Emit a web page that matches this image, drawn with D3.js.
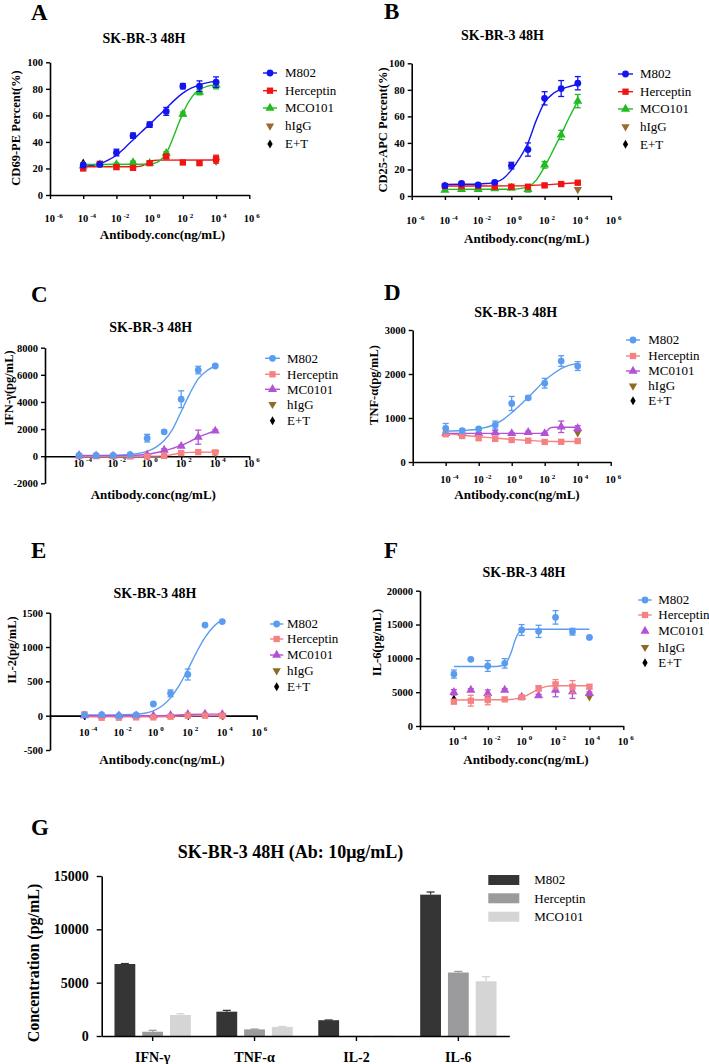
<!DOCTYPE html>
<html><head><meta charset="utf-8">
<script src="https://cdn.jsdelivr.net/npm/d3@7"></script>
<style>
body{margin:0;background:#fff}
svg{display:block}
svg text{font-family:"Liberation Serif","Times New Roman",Times,serif !important;fill:#000}
</style>
</head><body>
<svg id="c" width="709" height="1064" font-family="Liberation Serif, Times New Roman, serif"></svg>
<script>
// ================= DATA =================
const concs = [1e-4, 1e-3, 1e-2, 1e-1, 1, 10, 100, 1000, 10000];
const xTickExps = [-6, -4, -2, 0, 2, 4, 6];
const seriesAB = ["M802", "Herceptin", "MCO101", "hIgG", "E+T"];
const seriesCF = ["M802", "Herceptin", "MC0101", "hIgG", "E+T"];
const ctrlConcIgG = 1e4, ctrlConcET = 1e-4;

// Panel A: CD69-PE Percent(%)
const aM802 = [22.5, 23, 32, 44.7, 53, 63, 82, 82, 85];
const aM802Err = [1.5, 1, 2.5, 2, 2, 3, 2, 4, 4];
const aHer = [20, 23.5, 21, 20.5, 24, 29, 24.5, 24, 27];
const aHerErr = [1, 1, 1.5, 1.5, 1, 1.5, 1, 1, 3];
const aMCO = [22, 23, 23, 24.5, 24, 31.5, 61, 77.5, 83];
const aMCOErr = [1, 1, 1, 1, 1, 1, 1.5, 2, 3];
const aIgG = 25.5, aET = 24;
const fitA_M802 = [[-4,21.4],[-3.5,22.2],[-3,23.6],[-2.5,26.3],[-2,30],[-1.5,35.5],[-1,41.5],[-0.5,47.5],[0,53.3],[0.5,59.3],[1,65.3],[1.5,71.5],[2,76.8],[2.5,80.5],[3,83],[3.5,84.7],[4,85.8]];
const fitA_Her = [[-4,21.3],[-1,21.3],[-0.5,21.8],[-0.25,23.2],[0,25],[0.25,26],[0.5,26.3],[4,26.4]];
const fitA_MCO = [[-4,23],[0,23.2],[0.25,23.8],[0.5,25],[0.75,27.5],[1,31.5],[1.25,38],[1.5,46],[1.75,54],[2,61.5],[2.25,68],[2.5,73],[2.75,77],[3,79.3],[3.5,82],[4,83]];

// Panel B: CD25-APC Percent(%)
const bM802 = [7.8, 9.5, 8.3, 10.3, 22.9, 35, 73.6, 81, 85];
const bM802Err = [1, 1, 1, 1, 2.5, 5, 5, 6, 5];
const bHer = [7.5, 7.5, 7.5, 7, 7, 7, 8, 9, 10];
const bHerErr = [1, 1, 1, 1, 1, 1, 1, 1, 1];
const bMCO = [4.5, 5, 5, 5.5, 6, 5, 23.5, 46, 71.5];
const bMCOErr = [1, 1, 1, 1, 1, 2, 2.5, 3.5, 5];
const bIgG = 5, bET = 7.5;
const fitB_M802 = [[-4,8.7],[-3,8.8],[-2,9],[-1.5,9.4],[-1,10.2],[-0.5,13],[0,19.5],[0.5,28.5],[1,40],[1.5,57],[2,70.5],[2.5,77],[3,80.5],[3.5,82.5],[4,84]];
const fitB_Her = [[-4,7.5],[0,7.6],[1,7.9],[2,8.4],[3,9.2],[4,10]];
const fitB_MCO = [[-4,5],[0,5.1],[0.5,5.6],[1,7],[1.5,12],[2,22],[2.5,34],[3,46.5],[3.5,59.5],[4,71.5]];

// Panel C: IFN-γ(pg/mL)
const cM802 = [60, 50, 60, 120, 1330, 1800, 4200, 6350, 6650];
const cM802Err = [50, 50, 50, 50, 280, 100, 620, 280, 60];
const cHer = [0, 0, 0, -20, -30, 20, 230, 300, 280];
const cHerErr = [20, 20, 20, 20, 20, 20, 50, 30, 30];
const cMC = [40, 30, 20, 30, 100, 450, 740, 1400, 1860];
const cMCErr = [20, 20, 20, 20, 30, 100, 80, 520, 100];
const cIgG = 250, cET = 50;
const fitC_M802 = [[-4,60],[-3,62],[-2,75],[-1,130],[-0.5,210],[0,360],[0.5,650],[1,1150],[1.5,2000],[2,3300],[2.5,4600],[3,5700],[3.5,6300],[4,6650]];
const fitC_Her = [[-4,0],[0,0],[0.5,5],[1,20],[1.5,120],[2,230],[2.5,280],[3,295],[4,300]];
const fitC_MC = [[-4,40],[-2,40],[-1,60],[0,140],[0.5,250],[1,400],[1.5,580],[2,790],[2.5,1080],[3,1400],[3.5,1650],[4,1860]];

// Panel D: TNF-α(pg/mL)
const dM802 = [765, 712, 750, 840, 1330, 1460, 1790, 2295, 2180];
const dM802Err = [110, 30, 30, 90, 160, 40, 110, 120, 100];
const dHer = [630, 590, 540, 525, 500, 485, 455, 460, 477];
const dHerErr = [20, 20, 40, 30, 20, 20, 20, 20, 20];
const dMC = [650, 650, 650, 670, 650, 674, 650, 800, 765];
const dMCErr = [20, 20, 20, 50, 20, 30, 20, 130, 60];
const dIgG = 667, dET = 700;
const fitD_M802 = [[-4,700],[-3,715],[-2,750],[-1,860],[-0.5,970],[0,1120],[0.5,1290],[1,1470],[1.5,1660],[2,1850],[2.5,2000],[3,2120],[3.5,2200],[4,2240]];
const fitD_Her = [[-4,645],[-3,610],[-2,575],[-1,545],[0,515],[1,490],[2,470],[3,465],[4,465]];
const fitD_MC = [[-4,650],[2,650],[2.1,690],[2.25,750],[2.4,785],[2.6,790],[4,790]];

// Panel E: IL-2(pg/mL)
const eM802 = [10, 15, 0, 10, 170, 325, 600, 1320, 1370];
const eM802Err = [5, 5, 5, 5, 10, 50, 80, 10, 10];
const eHer = [20, -30, -30, -25, -25, -15, 0, 0, 0];
const eHerErr = [5, 5, 5, 5, 5, 5, 5, 5, 5];
const eMC = [0, 0, 0, 0, 0, 5, 20, 25, 20];
const eMCErr = [5, 5, 5, 5, 5, 5, 5, 5, 5];
const eIgG = 0, eET = 0;
const fitE_M802 = [[-4,10],[-3,10],[-2,12],[-1,20],[-0.5,35],[0,70],[0.5,140],[1,260],[1.5,440],[2,670],[2.5,920],[3,1140],[3.5,1300],[4,1400]];
const fitE_Her = [[-4,-15],[0,-15],[1,-12],[2,-2],[3,0],[4,0]];
const fitE_MC = [[-4,0],[0,0],[1,5],[2,18],[3,22],[4,22]];

// Panel F: IL-6(pg/mL)
const fM802 = [7680, 9850, 8870, 9260, 14190, 13990, 16060, 13940, 13100];
const fM802Err = [600, 100, 800, 700, 800, 900, 1000, 500, 100];
const fHer = [3600, 3740, 3840, 3940, 4240, 5570, 6160, 5810, 5810];
const fHerErr = [300, 800, 700, 200, 200, 400, 700, 900, 300];
const fMC = [4980, 5320, 4830, 5320, 4300, 4480, 5320, 5070, 4830];
const fMCErr = [400, 200, 500, 200, 100, 200, 1000, 1000, 200];
const fIgG = 4330, fET = 4000;
const fitF_M802 = [[-4,8800],[-1.5,8800],[-1.2,8900],[-1,9100],[-0.8,9800],[-0.6,11000],[-0.4,12600],[-0.2,13700],[0,14150],[0.3,14300],[4,14300]];
const fitF_Her = [[-4,3850],[-1,3880],[-0.5,3960],[0,4200],[0.5,4800],[1,5450],[1.5,5850],[2,5950],[4,5950]];

// Panel G: bar chart at 10 µg/mL
const gCats = ["IFN-γ", "TNF-α", "IL-2", "IL-6"];
const gSeries = ["M802", "Herceptin", "MCO101"];
const gM802 = [6750, 2280, 1480, 13250];
const gM802Err = [40, 120, 20, 250];
const gHer = [400, 620, 10, 5950];
const gHerErr = [130, 30, 0, 100];
const gMCO = [1970, 850, 40, 5130];
const gMCOErr = [120, 40, 0, 430];
const gYTicks = [0, 5000, 10000, 15000];

// ================= DRAWING =================
const SERIF = '"Liberation Serif","Times New Roman",Times,serif';
const svg = d3.select("#c");
const colAB = { M802: "#1414f0", Her: "#f01414", MCO: "#22bb22", IgG: "#9a6b2e", ET: "#000" };
const colCF = { M802: "#5a9cf0", Her: "#f48282", MCO: "#b452d6", IgG: "#8f6a22", ET: "#000" };

const sym = {
  circle: d3.symbol().type(d3.symbolCircle).size(36),
  square: d3.symbol().type(d3.symbolSquare).size(40),
  triangle: d3.symbol().type(d3.symbolTriangle).size(36),
  tdown: d3.symbol().type(d3.symbolTriangle).size(30),
  diamond: d3.symbol().type(d3.symbolDiamond).size(24)
};

function txt(sel, size, bold) {
  return sel.style("font-family", SERIF).style("font-size", size + "px")
    .style("font-weight", bold ? "bold" : "normal").attr("fill", "#000");
}

function drawDose(p) {
  const g = svg.append("g");
  const x = d3.scaleLog().domain([1e-6, 1e6]).range([p.x0, p.x1]);
  const y = d3.scaleLinear().domain(p.yDomain).range([p.yBot, p.yTop]);

  txt(g.append("text").attr("x", p.letter[0]).attr("y", p.letter[1]), 23, true).text(p.name);
  txt(g.append("text").attr("x", p.title[0]).attr("y", p.title[1]).attr("text-anchor", "middle"), 14, true)
    .text("SK-BR-3 48H");

  // y axis
  const ya = d3.axisLeft(y).tickValues(p.yTicks).tickSize(4).tickSizeOuter(0).tickPadding(3)
    .tickFormat(d => String(d));
  const yg = g.append("g").attr("transform", `translate(${p.x0},0)`).call(ya);
  yg.select(".domain").attr("stroke", "#000").attr("stroke-width", 1.6);
  yg.selectAll(".tick line").attr("stroke", "#000").attr("stroke-width", 1.4);
  txt(yg.selectAll(".tick text"), p.yFont, true);

  // x axis at y = 0
  const xa = d3.axisBottom(x).tickValues(xTickExps.map(e => Math.pow(10, e)))
    .tickSize(4).tickSizeOuter(0).tickFormat("");
  const xg = g.append("g").attr("transform", `translate(0,${y(0)})`).call(xa);
  xg.select(".domain").attr("stroke", "#000").attr("stroke-width", 1.6);
  xg.selectAll(".tick line").attr("stroke", "#000").attr("stroke-width", 1.4);

  const labExps = p.showFirst ? xTickExps : xTickExps.slice(1);
  const lab = txt(g.selectAll(".xl").data(labExps).join("text")
    .attr("x", e => x(Math.pow(10, e)) - 5.5).attr("y", p.xLabY), 10.5, true);
  lab.append("tspan").text("10");
  lab.append("tspan").attr("dx", 2).attr("dy", -4.5).style("font-size", "7px").text(e => String(e));

  // axis titles
  txt(g.append("text").attr("transform", `translate(${p.yTitle[0]},${p.yTitle[1]}) rotate(-90)`)
    .attr("text-anchor", "middle").attr("dy", "0.35em"), 12.5, true).text(p.yLabel);
  txt(g.append("text").attr("x", p.xTitle[0]).attr("y", p.xTitle[1]).attr("text-anchor", "middle"), 13, true)
    .text("Antibody.conc(ng/mL)");

  const line = d3.line().x(d => x(Math.pow(10, d[0]))).y(d => y(d[1])).curve(d3.curveMonotoneX);

  // fit curves
  p.series.forEach(s => {
    if (s.fit) g.append("path").attr("d", line(s.fit)).attr("fill", "none")
      .attr("stroke", s.color).attr("stroke-width", 1.4);
  });

  const drawPts = (s) => {
    const pts = s.values.map((v, i) => ({ c: concs[i], v, e: s.err[i] }));
    const eg = g.append("g").attr("stroke", s.color).attr("stroke-width", 1.3);
    pts.forEach(d => {
      if (d.e > 0) {
        const xx = x(d.c);
        eg.append("line").attr("x1", xx).attr("x2", xx).attr("y1", y(d.v - d.e)).attr("y2", y(d.v + d.e));
        eg.append("line").attr("x1", xx - 3).attr("x2", xx + 3).attr("y1", y(d.v + d.e)).attr("y2", y(d.v + d.e));
        eg.append("line").attr("x1", xx - 3).attr("x2", xx + 3).attr("y1", y(d.v - d.e)).attr("y2", y(d.v - d.e));
      }
    });
    g.selectAll(null).data(pts).join("path")
      .attr("d", sym[s.symbol]()).attr("fill", s.color)
      .attr("transform", d => `translate(${x(d.c)},${y(d.v)})`);
  };

  // controls underneath, then series
  g.append("path").attr("d", sym.diamond()).attr("fill", p.col.ET)
    .attr("transform", `translate(${x(ctrlConcET)},${y(p.et)})`);
  g.append("path").attr("d", sym.tdown()).attr("fill", p.col.IgG)
    .attr("transform", `translate(${x(ctrlConcIgG)},${y(p.igg)}) rotate(180)`);
  [...p.series].reverse().forEach(drawPts);

  // legend
  const leg = [
    ...p.series.map(s => ({ name: s.name, color: s.color, symbol: s.symbol, line: s.legLine !== false })),
    { name: p.names[3], color: p.col.IgG, symbol: "tdown", line: false, rot: 180 },
    { name: p.names[4], color: p.col.ET, symbol: "diamond", line: false }
  ];
  const cx = (p.leg.x0 + p.leg.x1) / 2;
  leg.forEach((d, i) => {
    const yy = p.leg.ys[i];
    if (d.line) g.append("line").attr("x1", p.leg.x0).attr("x2", p.leg.x1).attr("y1", yy).attr("y2", yy)
      .attr("stroke", d.color).attr("stroke-width", 1.4);
    g.append("path").attr("d", sym[d.symbol]()).attr("fill", d.color)
      .attr("transform", `translate(${cx},${yy})` + (d.rot ? " rotate(180)" : ""));
    txt(g.append("text").attr("x", p.leg.tx).attr("y", yy).attr("dy", "0.34em"), 13, false).text(d.name);
  });
}

function mk(values, err, fit, name, color, symbol, legLine) {
  return { values, err, fit, name, color, symbol, legLine };
}

drawDose({
  name: "A", x0: 50, x1: 249.3, yBot: 195, yTop: 62.3, yDomain: [0, 100], yTicks: [0, 20, 40, 60, 80, 100],
  yFont: 10.5, showFirst: true, xLabY: 222, letter: [31, 20], title: [144, 43], yTitle: [16, 128], xTitle: [162.5, 239],
  yLabel: "CD69-PE Percent(%)", names: seriesAB, col: colAB, igg: aIgG, et: aET,
  leg: { x0: 263, x1: 277, tx: 285, ys: [73, 90.7, 108, 126, 144] },
  series: [mk(aM802, aM802Err, fitA_M802, "M802", colAB.M802, "circle"),
           mk(aHer, aHerErr, fitA_Her, "Herceptin", colAB.Her, "square"),
           mk(aMCO, aMCOErr, fitA_MCO, "MCO101", colAB.MCO, "triangle")]
});

drawDose({
  name: "B", x0: 411.7, x1: 611, yBot: 196, yTop: 63.3, yDomain: [0, 100], yTicks: [0, 20, 40, 60, 80, 100],
  yFont: 10.5, showFirst: true, xLabY: 224, letter: [384, 18.5], title: [502.5, 40], yTitle: [383, 130], xTitle: [526.7, 243],
  yLabel: "CD25-APC Percent(%)", names: seriesAB, col: colAB, igg: bIgG, et: bET,
  leg: { x0: 618, x1: 633, tx: 640, ys: [74, 91.7, 109, 126.7, 144.3] },
  series: [mk(bM802, bM802Err, fitB_M802, "M802", colAB.M802, "circle"),
           mk(bHer, bHerErr, fitB_Her, "Herceptin", colAB.Her, "square"),
           mk(bMCO, bMCOErr, fitB_MCO, "MCO101", colAB.MCO, "triangle")]
});

drawDose({
  name: "C", x0: 45, x1: 249.3, yBot: 483.3, yTop: 347.7, yDomain: [-2000, 8000], yTicks: [-2000, 0, 2000, 4000, 6000, 8000],
  yFont: 10.5, showFirst: false, xLabY: 466.5, letter: [31, 302], title: [150.7, 331.7], yTitle: [9, 388], xTitle: [153.3, 499],
  yLabel: "IFN-γ(pg/mL)", names: seriesCF, col: colCF, igg: cIgG, et: cET,
  leg: { x0: 265, x1: 280, tx: 287, ys: [358.3, 374.3, 389.3, 404.3, 420.7] },
  series: [mk(cM802, cM802Err, fitC_M802, "M802", colCF.M802, "circle"),
           mk(cHer, cHerErr, fitC_Her, "Herceptin", colCF.Her, "square"),
           mk(cMC, cMCErr, fitC_MC, "MC0101", colCF.MCO, "triangle")]
});

drawDose({
  name: "D", x0: 412.7, x1: 610.7, yBot: 462, yTop: 330, yDomain: [0, 3000], yTicks: [0, 1000, 2000, 3000],
  yFont: 10.5, showFirst: false, xLabY: 483, letter: [384, 300], title: [515.7, 316.7], yTitle: [373.3, 385], xTitle: [517, 499],
  yLabel: "TNF-α(pg/mL)", names: seriesCF, col: colCF, igg: dIgG, et: dET,
  leg: { x0: 626, x1: 640, tx: 648.3, ys: [340, 356, 371, 386, 400.7] },
  series: [mk(dM802, dM802Err, fitD_M802, "M802", colCF.M802, "circle"),
           mk(dHer, dHerErr, fitD_Her, "Herceptin", colCF.Her, "square"),
           mk(dMC, dMCErr, fitD_MC, "MC0101", colCF.MCO, "triangle")]
});

drawDose({
  name: "E", x0: 50, x1: 256.7, yBot: 750, yTop: 612.7, yDomain: [-500, 1500], yTicks: [-500, 0, 500, 1000, 1500],
  yFont: 10.5, showFirst: false, xLabY: 735.5, letter: [31, 558], title: [155, 598], yTitle: [11.7, 650], xTitle: [162, 764],
  yLabel: "IL-2(pg/mL)", names: seriesCF, col: colCF, igg: eIgG, et: eET,
  leg: { x0: 270, x1: 283.3, tx: 287, ys: [624, 639, 655, 670.7, 686.7] },
  series: [mk(eM802, eM802Err, fitE_M802, "M802", colCF.M802, "circle"),
           mk(eHer, eHerErr, fitE_Her, "Herceptin", colCF.Her, "square"),
           mk(eMC, eMCErr, fitE_MC, "MC0101", colCF.MCO, "triangle")]
});

drawDose({
  name: "F", x0: 420, x1: 623.3, yBot: 726, yTop: 590.7, yDomain: [0, 20000], yTicks: [0, 5000, 10000, 15000, 20000],
  yFont: 10.5, showFirst: false, xLabY: 744.5, letter: [384, 558], title: [524, 576.7], yTitle: [376.7, 642.5], xTitle: [526, 764],
  yLabel: "IL-6(pg/mL)", names: seriesCF, col: colCF, igg: fIgG, et: fET,
  leg: { x0: 638.3, x1: 651.7, tx: 658.3, ys: [600, 615, 631, 647.3, 662.7] },
  series: [mk(fM802, fM802Err, fitF_M802, "M802", colCF.M802, "circle"),
           mk(fHer, fHerErr, fitF_Her, "Herceptin", colCF.Her, "square"),
           mk(fMC, fMCErr, null, "MC0101", colCF.MCO, "triangle", false)]
});

// ---------- Panel G ----------
(function () {
  const g = svg.append("g");
  const gCols = ["#353535", "#9b9b9e", "#d5d5d5"];
  const vals = [gM802, gHer, gMCO];
  const errs = [gM802Err, gHerErr, gMCOErr];
  const x0 = d3.scaleBand().domain(gCats).range([101.7, 509.3]).padding(0);
  const x1 = d3.scaleBand().domain(gSeries).range([0, x0.bandwidth()]).paddingInner(0.25).paddingOuter(0.46);
  const y = d3.scaleLinear().domain([0, 15000]).range([1036, 876]);

  txt(g.append("text").attr("x", 31).attr("y", 835), 23, true).text("G");
  txt(g.append("text").attr("x", 290.5).attr("y", 858).attr("text-anchor", "middle"), 18, true)
    .text("SK-BR-3 48H (Ab: 10μg/mL)");

  gSeries.forEach((s, si) => {
    const data = gCats.map((c, ci) => ({ c, v: vals[si][ci], e: errs[si][ci] }));
    g.selectAll(null).data(data).join("rect")
      .attr("x", d => x0(d.c) + x1(s)).attr("width", x1.bandwidth())
      .attr("y", d => y(d.v)).attr("height", d => y(0) - y(d.v)).attr("fill", gCols[si]);
    data.forEach(d => {
      if (d.e > 0) {
        const xc = x0(d.c) + x1(s) + x1.bandwidth() / 2;
        g.append("line").attr("x1", xc).attr("x2", xc).attr("y1", y(d.v)).attr("y2", y(d.v + d.e))
          .attr("stroke", gCols[si]).attr("stroke-width", 1.3);
        g.append("line").attr("x1", xc - 4).attr("x2", xc + 4).attr("y1", y(d.v + d.e)).attr("y2", y(d.v + d.e))
          .attr("stroke", gCols[si]).attr("stroke-width", 1.3);
      }
    });
  });

  const ya = d3.axisLeft(y).tickValues(gYTicks).tickSize(5).tickSizeOuter(0).tickPadding(8).tickFormat(d => String(d));
  const yg = g.append("g").attr("transform", "translate(101.7,0)").call(ya);
  yg.select(".domain").attr("stroke", "#000").attr("stroke-width", 1.6);
  yg.selectAll(".tick line").attr("stroke", "#000").attr("stroke-width", 1.4);
  txt(yg.selectAll(".tick text"), 14, true);

  const xa = d3.axisBottom(x0).tickSize(5).tickSizeOuter(0).tickFormat("");
  const xg = g.append("g").attr("transform", "translate(0,1036)").call(xa);
  xg.select(".domain").attr("stroke", "#000").attr("stroke-width", 1.6);
  xg.selectAll(".tick line").attr("stroke", "#000").attr("stroke-width", 1.4);
  txt(g.selectAll(".gx").data(gCats).join("text").attr("x", d => x0(d) + x0.bandwidth() / 2).attr("y", 1062)
    .attr("text-anchor", "middle"), 14, true).text(d => d);

  txt(g.append("text").attr("transform", "translate(33,963) rotate(-90)").attr("text-anchor", "middle").attr("dy", "0.35em"), 16, true)
    .text("Concentration (pg/mL)");

  gSeries.forEach((s, i) => {
    const yy = [880, 898.3, 916.7][i];
    g.append("rect").attr("x", 488.3).attr("y", yy - 5).attr("width", 31).attr("height", 10).attr("fill", gCols[i]);
    txt(g.append("text").attr("x", 534.3).attr("y", yy).attr("dy", "0.34em"), 13, false).text(s);
  });
})();
</script>
</body></html>
